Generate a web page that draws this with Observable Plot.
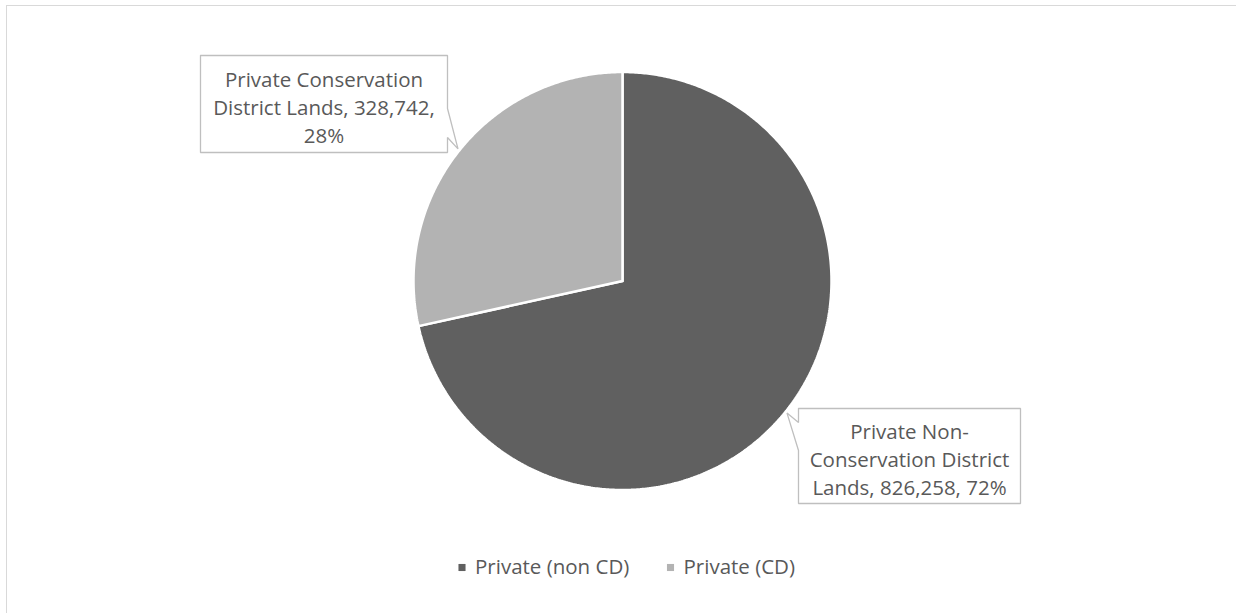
<!DOCTYPE html>
<html><head><meta charset="utf-8">
<script src="https://cdn.jsdelivr.net/npm/d3@7"></script>
<script src="https://cdn.jsdelivr.net/npm/@observablehq/plot@0.6"></script>
<style>
html,body{margin:0;padding:0;background:#fff;}
#chart{position:relative;width:1236px;height:613px;overflow:hidden;}
#chart svg{position:absolute;left:0;top:0;}
#frame{position:absolute;left:6px;top:5px;width:1300px;height:700px;border-left:1.5px solid #d9d9d9;border-top:1px solid #d9d9d9;}
</style></head><body>
<div id="chart"><div id="frame"></div></div>
<script>
// ---- data ----
const categories = ["Private Non-Conservation District Lands", "Private Conservation District Lands"];
const legendLabels = ["Private (non CD)", "Private (CD)"];
const values = [826258, 328742];
const colors = ["#606060", "#b3b3b3"];

// ---- layout ----
const W = 1236, H = 613;
const cx = 622, cy = 280.5, R = 209;
const fontSize = 20.5;
const fontFamily = "'Open Sans', sans-serif";
const total = d3.sum(values);
const fmt = d3.format(",");
const pie = d3.pie().sort(null).value(d => d)(values);

const slicePts = [];
pie.forEach((a, i) => {
  const n = Math.max(2, Math.ceil((a.endAngle - a.startAngle) / (Math.PI / 360)));
  slicePts.push({k: i, x: cx, y: cy});
  for (let j = 0; j <= n; j++) {
    const t = a.startAngle + (a.endAngle - a.startAngle) * j / n;
    slicePts.push({k: i, x: cx + R * Math.sin(t), y: cy - R * Math.cos(t)});
  }
  slicePts.push({k: i, x: cx, y: cy});
});

// callout boxes (annotation layout)
const boxes = [
  {k: 0, x0: 798, x1: 1020, y0: 408, y1: 503, side: "left", a0: 422, a1: 450, maxW: 208},
  {k: 1, x0: 200, x1: 447, y0: 55, y1: 152, side: "right", a0: 108, a1: 137, maxW: 232}
];
const calloutPts = [];
boxes.forEach(b => {
  const a = pie[b.k];
  const m = (a.startAngle + a.endAngle) / 2;
  const tip = [cx + (R + 2) * Math.sin(m), cy - (R + 2) * Math.cos(m)];
  let pts;
  if (b.side === "right") {
    pts = [[b.x0, b.y0], [b.x1, b.y0], [b.x1, b.a0], tip, [b.x1, b.a1], [b.x1, b.y1], [b.x0, b.y1], [b.x0, b.y0]];
  } else {
    pts = [[b.x0, b.y0], [b.x1, b.y0], [b.x1, b.y1], [b.x0, b.y1], [b.x0, b.a1], tip, [b.x0, b.a0], [b.x0, b.y0]];
  }
  pts.forEach(p => calloutPts.push({k: b.k, x: p[0], y: p[1]}));
});

// word wrap measured with the real font (breaks at spaces and after hyphens)
const ctx = document.createElement("canvas").getContext("2d");
ctx.font = `${fontSize}px ${fontFamily}`;
function wrap(str, maxW) {
  const tokens = str.match(/[^\s-]+-?|\s+/g) || [];
  const lines = []; let cur = "";
  for (const t of tokens) {
    if (/^\s+$/.test(t)) { cur += " "; continue; }
    const trial = cur + t;
    if (cur.trim() && ctx.measureText(trial.trim()).width > maxW) { lines.push(cur.trim()); cur = t; }
    else cur = trial;
  }
  if (cur.trim()) lines.push(cur.trim());
  return lines.join("\n");
}
const labelText = i => `${categories[i]}, ${fmt(values[i])}, ${Math.round(values[i] / total * 100)}%`;

const legendItems = legendLabels.map((l, i) => ({i, label: l, x: [461.5, 670][i], y: 567}));

const textStyle = {fill: "#595959", fontSize};

function draw() {
  const plot = Plot.plot({
    width: W, height: H,
    marginTop: 0, marginRight: 0, marginBottom: 0, marginLeft: 0,
    x: {domain: [0, W], range: [0, W], axis: null},
    y: {domain: [0, H], range: [0, H], axis: null},
    style: {fontFamily, background: "transparent", overflow: "visible"},
    marks: [
      Plot.line(slicePts, {x: "x", y: "y", z: "k", fill: d => colors[d.k], stroke: "white", strokeWidth: 2.5, strokeLinejoin: "miter"}),
      Plot.line(calloutPts, {x: "x", y: "y", z: "k", fill: "white", stroke: "#bfbfbf", strokeWidth: 1.3, strokeLinejoin: "miter"}),
      Plot.text(boxes, {
        x: d => (d.x0 + d.x1) / 2, y: d => (d.y0 + d.y1) / 2 + 2,
        text: d => wrap(labelText(d.k), d.maxW), lineHeight: 1.36,
        textAnchor: "middle", lineAnchor: "middle", ...textStyle
      }),
      Plot.dot(legendItems, {x: "x", y: "y", symbol: "square", r: 4, fill: d => colors[d.i], stroke: null}),
      Plot.text(legendItems, {x: d => d.x + 13, y: "y", text: "label", textAnchor: "start", ...textStyle})
    ]
  });
  document.getElementById("chart").appendChild(plot);
}
if (document.fonts && document.fonts.load) {
  document.fonts.load(`${fontSize}px 'Open Sans'`).then(() => { ctx.font = `${fontSize}px ${fontFamily}`; draw(); }, draw);
} else draw();
</script>
</body></html>
